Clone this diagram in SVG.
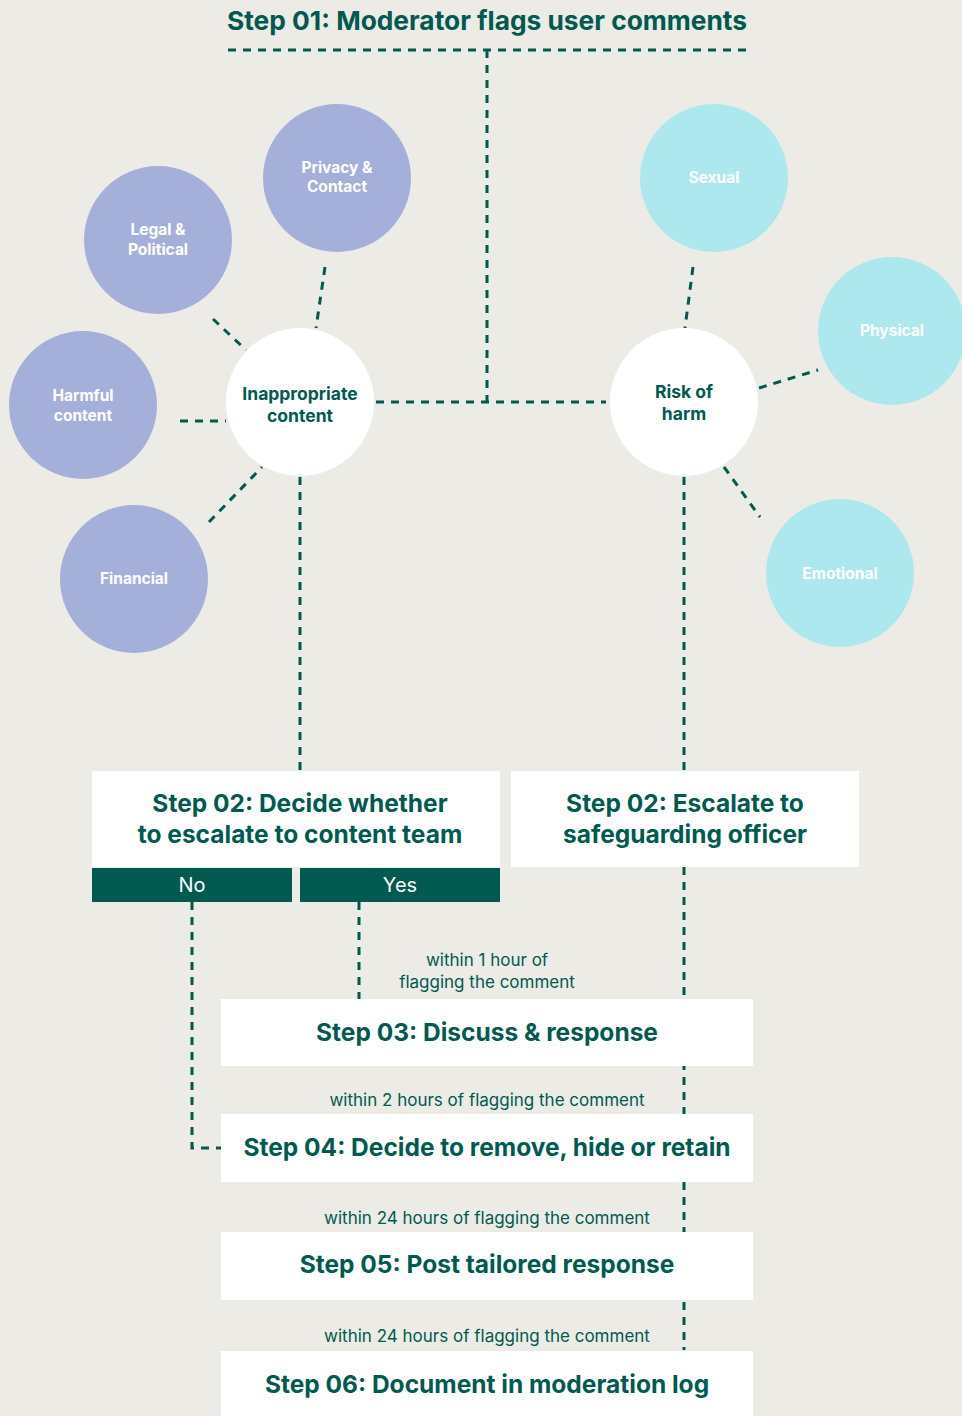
<svg xmlns="http://www.w3.org/2000/svg" width="962" height="1416" viewBox="0 0 962 1416">
<style>
.bg{fill:#ECEBE6}
.dash{stroke:#005A50;stroke-width:3;stroke-dasharray:8 7;fill:none}
.pur{fill:#A5B0DA}
.cya{fill:#AEE8EF}
.wht{fill:#FFFFFF}
.box{fill:#FFFFFF}
.tab{fill:#005A50}
.ct{font-family:Inter,"Noto Sans",sans-serif;font-weight:700;font-size:15.5px;fill:#FFFFFF;text-anchor:middle}
.it{font-family:Inter,"Noto Sans",sans-serif;font-weight:700;font-size:17.5px;fill:#005A50;text-anchor:middle}
.bt{font-family:Inter,"Noto Sans",sans-serif;font-weight:700;font-size:24.5px;fill:#005A50;text-anchor:middle}
.title{font-family:Inter,"Noto Sans",sans-serif;font-weight:700;font-size:26.3px;fill:#005A50;text-anchor:middle}
.lbl{font-family:Inter,"Noto Sans",sans-serif;font-weight:400;font-size:17px;fill:#005A50;text-anchor:middle}
.tt{font-family:Inter,"Noto Sans",sans-serif;font-weight:400;font-size:20px;fill:#FFFFFF;text-anchor:middle}
</style>
<rect class="bg" x="0" y="0" width="962" height="1416"/>

<g id="connectors">
<path class="dash" d="M228 50 H746"/>
<path class="dash" d="M487 50 V402"/>
<path class="dash" d="M376 402 H606"/>
<path class="dash" d="M325 267 L316 328"/>
<path class="dash" d="M213 319 L246 350"/>
<path class="dash" d="M180 421 H226"/>
<path class="dash" d="M209 522 L262 467"/>
<path class="dash" d="M300 477 V771"/>
<path class="dash" d="M693 267 L685 328"/>
<path class="dash" d="M759 388 L818 370"/>
<path class="dash" d="M724 467 L760 517"/>
<path class="dash" d="M684 477 V1350"/>
<path class="dash" d="M192 902 V1148 H221"/>
<path class="dash" d="M359 902 V999"/>
</g>

<text class="title" x="487" y="30">Step 01: Moderator flags user comments</text>

<g id="privacy"><circle class="pur" cx="337" cy="178" r="74"/><text class="ct" x="337" y="173">Privacy &amp;</text><text class="ct" x="337" y="192">Contact</text></g>
<g id="legal"><circle class="pur" cx="158" cy="240" r="74"/><text class="ct" x="158" y="235">Legal &amp;</text><text class="ct" x="158" y="255">Political</text></g>
<g id="harmful"><circle class="pur" cx="83" cy="405" r="74"/><text class="ct" x="83" y="401">Harmful</text><text class="ct" x="83" y="421">content</text></g>
<g id="financial"><circle class="pur" cx="134" cy="579" r="74"/><text class="ct" x="134" y="584">Financial</text></g>
<g id="inappropriate"><circle class="wht" cx="300" cy="402" r="74"/><text class="it" x="300" y="400">Inappropriate</text><text class="it" x="300" y="422">content</text></g>

<g id="sexual"><circle class="cya" cx="714" cy="178" r="74"/><text class="ct" x="714" y="183">Sexual</text></g>
<g id="physical"><circle class="cya" cx="892" cy="331" r="74"/><text class="ct" x="892" y="336">Physical</text></g>
<g id="risk"><circle class="wht" cx="684" cy="402" r="74"/><text class="it" x="684" y="398">Risk of</text><text class="it" x="684" y="420">harm</text></g>
<g id="emotional"><circle class="cya" cx="840" cy="573" r="74"/><text class="ct" x="840" y="579">Emotional</text></g>

<g id="step02a"><rect class="box" x="92" y="771" width="408" height="96"/><text class="bt" x="300" y="812">Step 02: Decide whether</text><text class="bt" x="300" y="843">to escalate to content team</text></g>
<g id="no"><rect class="tab" x="92" y="868" width="200" height="34"/><text class="tt" x="192" y="892">No</text></g>
<g id="yes"><rect class="tab" x="300" y="868" width="200" height="34"/><text class="tt" x="400" y="892">Yes</text></g>
<g id="step02b"><rect class="box" x="511" y="771" width="348" height="96"/><text class="bt" x="685" y="812">Step 02: Escalate to</text><text class="bt" x="685" y="843">safeguarding officer</text></g>

<text class="lbl" x="487" y="966">within 1 hour of</text>
<text class="lbl" x="487" y="988">flagging the comment</text>
<g id="step03"><rect class="box" x="221" y="999" width="532" height="67"/><text class="bt" x="487" y="1041">Step 03: Discuss &amp; response</text></g>
<text class="lbl" x="487" y="1106">within 2 hours of flagging the comment</text>
<g id="step04"><rect class="box" x="221" y="1114" width="532" height="68"/><text class="bt" x="487" y="1156">Step 04: Decide to remove, hide or retain</text></g>
<text class="lbl" x="487" y="1224">within 24 hours of flagging the comment</text>
<g id="step05"><rect class="box" x="221" y="1232" width="532" height="68"/><text class="bt" x="487" y="1273">Step 05: Post tailored response</text></g>
<text class="lbl" x="487" y="1342">within 24 hours of flagging the comment</text>
<g id="step06"><rect class="box" x="221" y="1351" width="532" height="70"/><text class="bt" x="487" y="1393">Step 06: Document in moderation log</text></g>
</svg>
